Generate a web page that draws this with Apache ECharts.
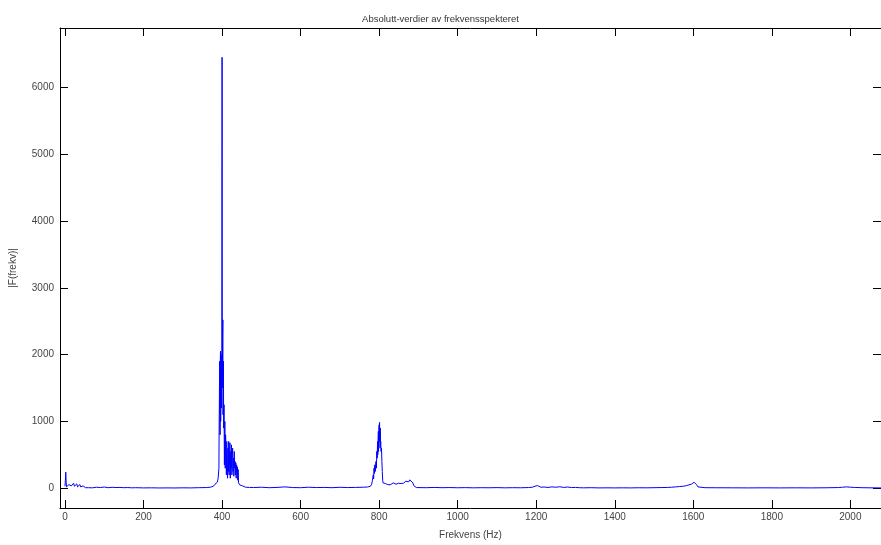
<!DOCTYPE html>
<html>
<head>
<meta charset="utf-8">
<script src="https://cdn.jsdelivr.net/npm/echarts@6/dist/echarts.min.js"></script>
<style>html,body{margin:0;padding:0;background:#fff;}#c{width:881px;height:545px;}</style>
</head>
<body>
<div id="c"></div>
<script>
// Axis ranges and tick labels
const xMin = -12.7, xMax = 2078;
const yMin = -296, yMax = 6889;
const xTicks = [0, 200, 400, 600, 800, 1000, 1200, 1400, 1600, 1800, 2000];
const yTicks = [0, 1000, 2000, 3000, 4000, 5000, 6000];

// Spectrum: frequency (Hz) and |F| values
const freq = [
  0,1,2,3,4,5,6,8,10,12,14,16,18,20,22,24,26,28,30,32,34,36,38,40,42,44,46,48,50,52,55,60,65,70,
  80,90,100,110,120,130,140,150,160,170,180,200,220,240,260,280,300,320,340,360,370,
  375,378,380,382,384,386,388,390,392,392.5,393,393.5,394,394.5,395,395.5,396,396.5,397,397.5,398,398.5,399,399.5,
  400,400.5,401,401.5,402,402.5,403,403.5,404,405,406,407,408,409,
  410,411,412,413,414,415,416,417,418,419,420,421,422,423,424,425,426,427,428,429,430,431,432,433,434,435,
  436,437,438,439,440,441,442,443,445,448,452,456,460,470,480,
  500,520,540,560,580,600,620,640,660,680,700,720,740,760,770,775,
  778,781,783,785,786,787,788,789,790,792,793,794,795,796,796.5,797,797.5,798,798.5,799,799.5,800,800.5,801,801.5,
  802,802.5,803,803.5,804,805,806,807,808,809,
  810,812,814,816,818,820,822,825,828,830,833,836,838,840,843,846,848,850,853,856,858,860,862,865,868,870,
  873,875,878,880,883,886,888,890,895,
  900,920,940,960,980,1000,1020,1040,1060,1080,1100,1120,1140,1160,1180,1190,
  1193,1195,1197,1199,1201,1203,1205,1208,1212,1220,1230,1240,1250,1260,1270,1280,1290,1300,1310,1320,
  1340,1360,1380,1400,1420,1440,1460,1480,1500,1520,1535,1545,1555,1565,1570,1575,1580,1583,1586,1589,
  1592,1595,1598,1600,1602,1604,1606,1608,1610,1612,1615,1630,1660,1700,1740,1780,1820,1860,1900,1940,
  1970,1980,1985,1990,1995,2000,2010,2030,2050,2070,2078
];
const amp = [
  30,120,240,90,20,15,40,25,55,30,70,35,60,20,75,30,50,25,65,20,45,15,55,20,30,10,35,12,25,8,15,8,12,6,
  15,10,18,8,14,10,12,8,10,6,8,5,6,4,5,4,6,5,8,10,15,
  20,30,45,60,40,70,90,150,300,900,1200,1600,1900,1100,800,1900,2050,1000,1300,1950,2000,1200,1700,2100,
  6450,1500,1800,2300,2520,1100,1400,1900,900,1250,350,1000,300,800,
  500,200,700,350,150,600,250,700,200,450,680,150,550,300,650,200,500,600,250,450,180,550,300,400,200,380,
  150,350,250,320,120,280,80,60,50,40,35,20,15,12,10,
  15,8,12,20,10,8,15,10,12,8,14,10,12,15,18,25,
  30,60,120,200,140,300,220,350,250,400,300,550,450,700,500,600,750,850,550,700,900,950,700,985,850,
  800,600,900,650,700,550,600,400,250,120,
  80,90,60,70,50,75,55,70,50,75,60,80,55,70,60,85,60,75,90,70,80,95,75,90,105,85,
  115,95,125,100,110,80,40,15,10,
  10,8,12,8,10,7,9,6,8,7,9,6,8,7,10,15,
  25,35,30,45,30,40,20,25,15,18,12,20,15,22,12,18,10,12,8,6,
  8,5,6,5,6,5,7,6,8,10,12,15,20,25,35,30,45,40,60,50,
  75,60,85,70,90,65,80,55,70,20,10,8,7,6,5,6,5,6,5,7,
  10,15,25,20,30,15,12,8,6,5,5
];

const seriesData = freq.map((f, i) => [f, amp[i]]);

const chart = echarts.init(document.getElementById('c'), null, {renderer: 'canvas'});
const labelStyle = {color: '#444', fontSize: 10, fontFamily: 'Liberation Sans, Arial, sans-serif'};
const tickStyle = {color: '#000', width: 1};
const lineStyle = {color: '#000', width: 1};
const plain = v => String(v);

chart.setOption({
  animation: false,
  backgroundColor: '#fff',
  title: {
    text: 'Absolutt-verdier av frekvensspekteret',
    left: 'center',
    top: 9,
    textStyle: {color: '#333', fontSize: 9.5, fontWeight: 'normal', fontFamily: 'Liberation Sans, Arial, sans-serif'}
  },
  grid: {left: 58, width: 826, top: 28, height: 485, containLabel: false},
  xAxis: [
    {
      type: 'value', min: xMin, max: xMax, position: 'bottom',
      name: 'Frekvens (Hz)', nameLocation: 'middle', nameGap: 22,
      nameTextStyle: labelStyle,
      axisLine: {show: true, onZero: false, lineStyle: lineStyle},
      axisTick: {show: true, inside: true, length: 8, lineStyle: tickStyle, customValues: xTicks},
      axisLabel: Object.assign({customValues: xTicks, margin: 4, formatter: plain}, labelStyle),
      splitLine: {show: false}
    },
    {
      type: 'value', min: xMin, max: xMax, position: 'top',
      axisLine: {show: true, onZero: false, lineStyle: lineStyle},
      axisTick: {show: true, inside: true, length: 8, lineStyle: tickStyle, customValues: xTicks},
      axisLabel: {show: false},
      splitLine: {show: false}
    }
  ],
  yAxis: [
    {
      type: 'value', min: yMin, max: yMax, position: 'left',
      name: '|F(frekv)|', nameLocation: 'middle', nameGap: 42, nameRotate: 90,
      nameTextStyle: labelStyle,
      axisLine: {show: true, onZero: false, lineStyle: lineStyle},
      axisTick: {show: true, inside: true, length: 8, lineStyle: tickStyle, customValues: yTicks},
      axisLabel: Object.assign({customValues: yTicks, margin: 6, formatter: plain}, labelStyle),
      splitLine: {show: false}
    },
    {
      type: 'value', min: yMin, max: yMax, position: 'right',
      axisLine: {show: true, onZero: false, lineStyle: lineStyle},
      axisTick: {show: true, inside: true, length: 8, lineStyle: tickStyle, customValues: yTicks},
      axisLabel: {show: false},
      splitLine: {show: false}
    }
  ],
  series: [{
    type: 'line',
    data: seriesData,
    xAxisIndex: 0, yAxisIndex: 0,
    showSymbol: false,
    symbol: 'none',
    lineStyle: {color: '#0000ff', width: 1},
    clip: true
  }]
});
</script>
</body>
</html>
